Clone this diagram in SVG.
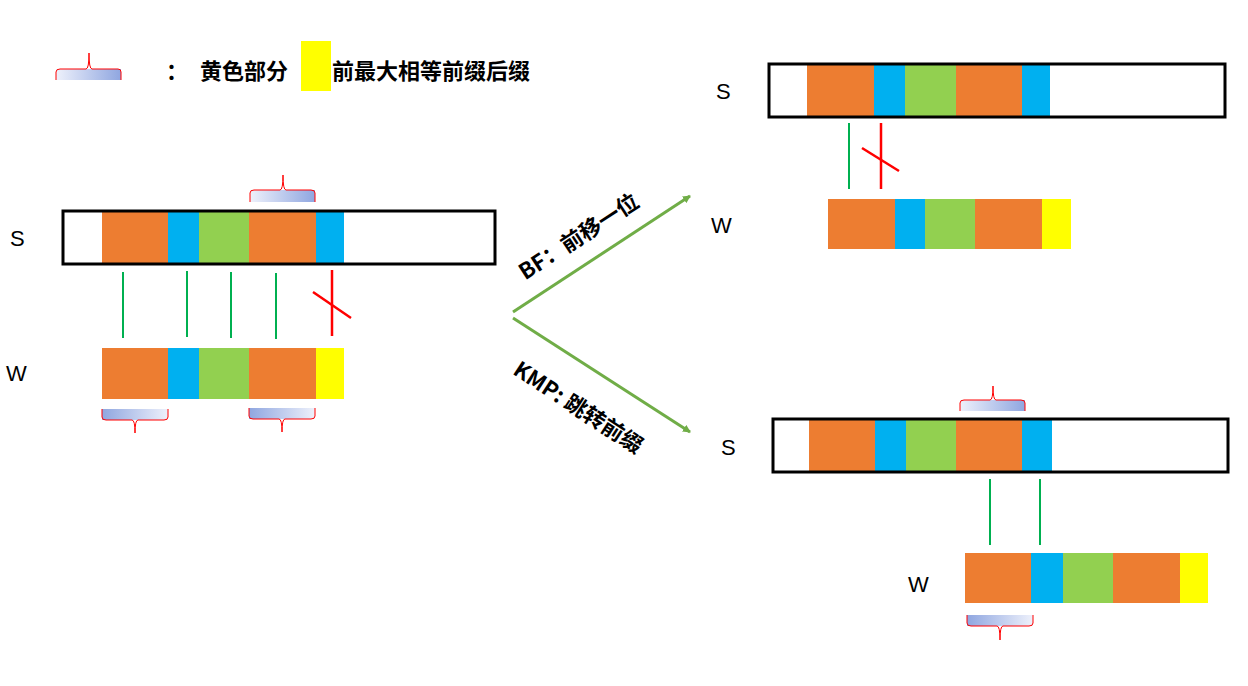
<svg xmlns="http://www.w3.org/2000/svg" width="1248" height="686" viewBox="0 0 1248 686">
<defs>
<linearGradient id="gU" x1="0" x2="1" y1="0" y2="0"><stop offset="0" stop-color="#eef1fb"/><stop offset="1" stop-color="#8fa6e0"/></linearGradient>
<linearGradient id="gD" x1="0" x2="1" y1="0" y2="0"><stop offset="0" stop-color="#8fa6e0"/><stop offset="1" stop-color="#eef1fb"/></linearGradient>
<marker id="ah" markerWidth="8" markerHeight="8" refX="7" refY="4" orient="auto" markerUnits="userSpaceOnUse"><path d="M0,0 L8,4 L0,8 Z" fill="#70AD47"/></marker>
</defs>
<style>
.o{fill:#ED7D31}.b{fill:#00B0F0}.g{fill:#92D050}.y{fill:#FFFF00}
.box{fill:none;stroke:#000;stroke-width:3}
.br{fill:none;stroke:#FF0000;stroke-width:1}
.gl{stroke:#00B050;stroke-width:2}
.rl{stroke:#FF0000;stroke-width:2.5}
.t{font-family:"Liberation Sans","Noto Sans CJK SC",sans-serif;font-size:22px;fill:#000}
.c{font-family:"Noto Sans CJK SC",sans-serif;font-size:22px;font-weight:bold;fill:#000}
.ar{stroke:#70AD47;stroke-width:3;fill:none}
</style>
<rect width="1248" height="686" fill="#fff"/>

<g id="legend">
<rect x="56" y="69" width="65" height="11" fill="url(#gU)"/>
<path class="br" d="M56,80 V72 Q56,69 60,69 H86 Q89,69 89,53 Q89,69 92,69 H118 Q121,69 121,72 V80"/>
<text class="c" x="166" y="79">：</text>
<rect x="301" y="41" width="30" height="50" class="y"/>
<text class="c" x="200" y="79">黄色部分</text>
<text class="c" x="332" y="79">前最大相等前缀后缀</text>
</g>

<g id="left-S">
<rect x="102" y="212" width="66" height="51" class="o"/><rect x="168" y="212" width="31" height="51" class="b"/><rect x="199" y="212" width="50" height="51" class="g"/><rect x="249" y="212" width="67" height="51" class="o"/><rect x="316" y="212" width="28" height="51" class="b"/>
<rect x="63" y="211" width="432" height="53" class="box"/>
<text class="t" x="10" y="246">S</text>
<rect x="250" y="190" width="65" height="12" fill="url(#gU)"/>
<path class="br" d="M250,202 V193 Q250,190 254,190 H280 Q283,190 283,175 Q283,190 286,190 H311 Q315,190 315,193 V202"/>
</g>

<g id="left-W">
<rect x="102" y="348" width="66" height="51" class="o"/><rect x="168" y="348" width="31" height="51" class="b"/><rect x="199" y="348" width="50" height="51" class="g"/><rect x="249" y="348" width="67" height="51" class="o"/><rect x="316" y="348" width="28" height="51" class="y"/>
<text class="t" x="6" y="381">W</text>
<rect x="102" y="409" width="66" height="11" fill="url(#gD)"/>
<path class="br" d="M102,409 V417 Q102,420 106,420 H132 Q135,420 135,433 Q135,420 138,420 H164 Q168,420 168,417 V409"/>
<rect x="249" y="408" width="66" height="11" fill="url(#gD)"/>
<path class="br" d="M249,408 V416 Q249,419 253,419 H279 Q282,419 282,432 Q282,419 285,419 H311 Q315,419 315,416 V408"/>
</g>

<g id="connectors">
<line class="gl" x1="123" y1="272" x2="123" y2="338"/><line class="gl" x1="187" y1="271" x2="187" y2="337"/><line class="gl" x1="231" y1="272" x2="231" y2="338"/><line class="gl" x1="276" y1="273" x2="276" y2="339"/>
<line class="rl" x1="332" y1="270" x2="332" y2="336"/><line class="rl" x1="313" y1="292" x2="351" y2="318"/>
<line class="gl" x1="849" y1="123" x2="849" y2="189"/>
<line class="rl" x1="881" y1="123" x2="881" y2="189"/><line class="rl" x1="862" y1="148" x2="899" y2="171"/>
<line class="gl" x1="990" y1="479" x2="990" y2="545"/><line class="gl" x1="1040" y1="479" x2="1040" y2="545"/>
<line class="ar" x1="513" y1="312" x2="690" y2="196" marker-end="url(#ah)"/>
<line class="ar" x1="513" y1="318" x2="690" y2="432" marker-end="url(#ah)"/>
<text class="c" transform="translate(583,243) rotate(-33)" text-anchor="middle">BF：前移一位</text>
<text class="c" transform="translate(574,414) rotate(33)" text-anchor="middle">KMP: 跳转前缀</text>
</g>

<g id="top-S">
<rect x="807" y="65" width="67" height="51" class="o"/><rect x="874" y="65" width="31" height="51" class="b"/><rect x="905" y="65" width="51" height="51" class="g"/><rect x="956" y="65" width="66" height="51" class="o"/><rect x="1022" y="65" width="28" height="51" class="b"/>
<rect x="769" y="64" width="456" height="53" class="box"/>
<text class="t" x="716" y="99">S</text>
</g>
<g id="top-W">
<rect x="828" y="199" width="67" height="50" class="o"/><rect x="895" y="199" width="30" height="50" class="b"/><rect x="925" y="199" width="50" height="50" class="g"/><rect x="975" y="199" width="67" height="50" class="o"/><rect x="1042" y="199" width="29" height="50" class="y"/>
<text class="t" x="711" y="233">W</text>
</g>

<g id="bottom-S">
<rect x="809" y="420" width="66" height="51" class="o"/><rect x="875" y="420" width="31" height="51" class="b"/><rect x="906" y="420" width="50" height="51" class="g"/><rect x="956" y="420" width="66" height="51" class="o"/><rect x="1022" y="420" width="30" height="51" class="b"/>
<rect x="773" y="419" width="455" height="53" class="box"/>
<text class="t" x="721" y="455">S</text>
<rect x="960" y="400" width="65" height="11" fill="url(#gU)"/>
<path class="br" d="M960,411 V403 Q960,400 964,400 H990 Q993,400 993,386 Q993,400 996,400 H1021 Q1025,400 1025,403 V411"/>
</g>
<g id="bottom-W">
<rect x="965" y="553" width="66" height="50" class="o"/><rect x="1031" y="553" width="32" height="50" class="b"/><rect x="1063" y="553" width="50" height="50" class="g"/><rect x="1113" y="553" width="67" height="50" class="o"/><rect x="1180" y="553" width="28" height="50" class="y"/>
<text class="t" x="908" y="592">W</text>
<rect x="967" y="615" width="66" height="11" fill="url(#gD)"/>
<path class="br" d="M967,615 V623 Q967,626 971,626 H997 Q1000,626 1000,640 Q1000,626 1003,626 H1029 Q1033,626 1033,623 V615"/>
</g>
</svg>
